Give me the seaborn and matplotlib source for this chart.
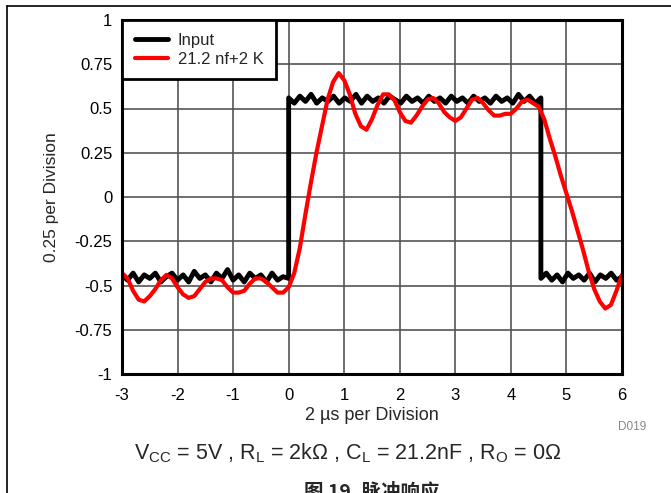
import numpy as np
import pandas as pd
import seaborn as sns
import matplotlib.pyplot as plt
from matplotlib.lines import Line2D

# 输入方波（读图估计，含噪声）
in_low1 = [-0.44, -0.47, -0.43, -0.48, -0.44, -0.46, -0.43, -0.48, -0.45, -0.43,
           -0.47, -0.44, -0.48, -0.42, -0.46, -0.44, -0.48, -0.43, -0.46, -0.41,
           -0.47, -0.44, -0.48, -0.43, -0.46, -0.44, -0.48, -0.43, -0.47, -0.45, -0.46]
in_high = [0.56, 0.53, 0.57, 0.54, 0.58, 0.53, 0.56, 0.54, 0.57, 0.53,
           0.56, 0.54, 0.58, 0.53, 0.57, 0.54, 0.56, 0.53, 0.57, 0.55,
           0.53, 0.57, 0.54, 0.56, 0.53, 0.57, 0.54, 0.56, 0.53, 0.57,
           0.54, 0.56, 0.53, 0.57, 0.54, 0.56, 0.53, 0.57, 0.54, 0.56,
           0.53, 0.58, 0.54, 0.57, 0.53, 0.56]
in_low2 = [-0.46, -0.43, -0.47, -0.44, -0.48, -0.43, -0.46, -0.44, -0.47, -0.43,
           -0.48, -0.44, -0.46, -0.43, -0.47, -0.45]
t_rise = 0.0
t_fall = 4.54

# 输出响应 21.2 nF + 2 kΩ，步长 0.1
out_vals = [-0.43, -0.46, -0.53, -0.58, -0.59, -0.56, -0.52, -0.47, -0.44, -0.46,
            -0.51, -0.55, -0.57, -0.56, -0.52, -0.48, -0.46, -0.46, -0.47, -0.51,
            -0.54, -0.54, -0.53, -0.49, -0.46, -0.46, -0.48, -0.51, -0.54, -0.54,
            -0.51, -0.43, -0.29, -0.10, 0.08, 0.25, 0.40, 0.55, 0.65, 0.70,
            0.66, 0.58, 0.47, 0.40, 0.38, 0.44, 0.52, 0.58, 0.58, 0.55,
            0.48, 0.43, 0.42, 0.46, 0.51, 0.55, 0.56, 0.53, 0.48, 0.45,
            0.43, 0.45, 0.50, 0.55, 0.56, 0.53, 0.49, 0.46, 0.46, 0.47,
            0.47, 0.50, 0.54, 0.55, 0.53, 0.51, 0.44, 0.33, 0.23, 0.12,
            0.02, -0.08, -0.19, -0.30, -0.42, -0.52, -0.59, -0.63, -0.61, -0.53, -0.44]

x_ticks = [-3, -2, -1, 0, 1, 2, 3, 4, 5, 6]
y_ticks = [-1, -0.75, -0.5, -0.25, 0, 0.25, 0.5, 0.75, 1]
y_ticklabels = ["-1", "-0.75", "-0.5", "-0.25", "0", "0.25", "0.5", "0.75", "1"]

t_in = np.concatenate([np.linspace(-3, t_rise, len(in_low1)),
                       np.linspace(t_rise, t_fall, len(in_high)),
                       np.linspace(t_fall, 6, len(in_low2))])
v_in = np.concatenate([in_low1, in_high, in_low2])
df_in = pd.DataFrame({"t": t_in, "v": v_in})
df_out = pd.DataFrame({"t": np.linspace(-3, 6, len(out_vals)), "v": out_vals})

sns.set_theme(style="white")
plt.rcParams['font.family'] = ['Liberation Sans', 'DejaVu Sans']
plt.rcParams['mathtext.fontset'] = 'custom'
plt.rcParams['mathtext.rm'] = 'Liberation Sans'
plt.rcParams['mathtext.it'] = 'Liberation Sans'

fig = plt.figure(figsize=(6.71, 4.93), dpi=100)
ax = fig.add_axes([122 / 671, 1 - 374 / 493, 500 / 671, 354 / 493])

sns.lineplot(data=df_in, x="t", y="v", estimator=None, sort=False, color="black",
             linewidth=3.5, label="Input", ax=ax)
sns.lineplot(data=df_out, x="t", y="v", estimator=None, sort=False, color="#ff0000",
             linewidth=3, label="21.2 nf+2 K", ax=ax)

ax.set_xlim(-3, 6)
ax.set_ylim(-1, 1)
ax.set_xticks(x_ticks)
ax.set_xticklabels([str(v) for v in x_ticks])
ax.set_yticks(y_ticks)
ax.set_yticklabels(y_ticklabels)
ax.tick_params(axis='both', length=0, labelsize=12, colors='black')
ax.tick_params(axis='x', pad=10)
ax.tick_params(axis='y', pad=7)
ax.grid(True, color="#555555", linewidth=1.2)
ax.set_axisbelow(True)
for s in ax.spines.values():
    s.set_color("black")
    s.set_linewidth(2.2)

ax.set_xlabel("2 µs per Division", fontsize=13, labelpad=3)
ax.set_ylabel("0.25 per Division", fontsize=12.5, labelpad=11)

leg = ax.legend(loc="upper left", borderaxespad=0, fancybox=False, framealpha=1,
                edgecolor="black", fontsize=12, handlelength=2.0, handletextpad=0.6,
                borderpad=0.75, labelspacing=0.25)
leg.get_frame().set_linewidth(2)

fig.text(632 / 671, 1 - 427 / 493, "D019", color="#888888", fontsize=8.5,
         ha="center", va="center")
fig.text(348 / 671, 1 - 453 / 493,
         r"V$_{\rm CC}$ = 5V , R$_{\rm L}$ = 2kΩ , C$_{\rm L}$ = 21.2nF , R$_{\rm O}$ = 0Ω",
         fontsize=15.5, ha="center", va="center")
fig.text(372 / 671, 1 - 483 / 493, "图 19. 脉冲响应", fontsize=14, fontweight="bold",
         ha="center", va="top", family=['Noto Sans CJK SC', 'DejaVu Sans'])

# 页面边框
fig.add_artist(Line2D([7 / 671, 1.0], [1 - 6 / 493, 1 - 6 / 493], color="black", linewidth=1.2))
fig.add_artist(Line2D([7 / 671, 7 / 671], [0, 1 - 6 / 493], color="black", linewidth=1.2))

fig.savefig("out.png", dpi=100)
